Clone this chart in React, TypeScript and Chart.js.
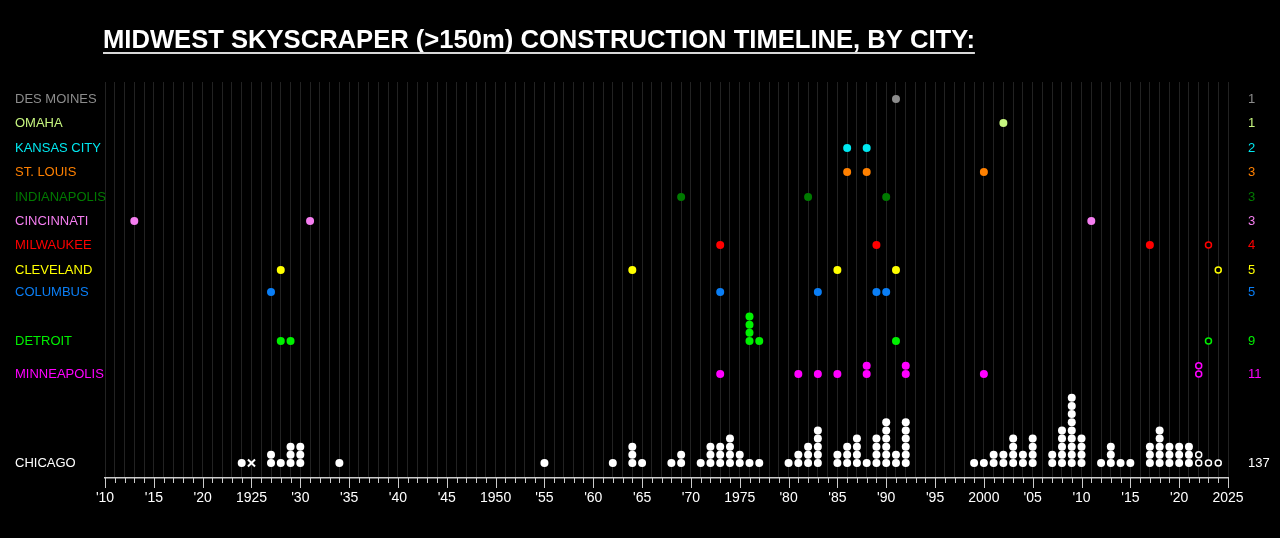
import { useEffect, useRef } from "react";
import Chart from "chart.js/auto";

const FONT = "'Liberation Sans', Arial, sans-serif";
const YEAR_MIN = 1910;
const YEAR_MAX = 2025;

const TITLE = "MIDWEST SKYSCRAPER (>150m) CONSTRUCTION TIMELINE, BY CITY:";

const cityNames = [
  "DES MOINES",
  "OMAHA",
  "KANSAS CITY",
  "ST. LOUIS",
  "INDIANAPOLIS",
  "CINCINNATI",
  "MILWAUKEE",
  "CLEVELAND",
  "COLUMBUS",
  "DETROIT",
  "MINNEAPOLIS",
  "CHICAGO",
];

// completed towers, one entry per building (year finished)
const desMoinesBuilt = [1991];
const omahaBuilt = [2002];
const kansasCityBuilt = [1986, 1988];
const stLouisBuilt = [1986, 1988, 2000];
const indianapolisBuilt = [1969, 1982, 1990];
const cincinnatiBuilt = [1913, 1931, 2011];
const milwaukeeBuilt = [1973, 1989, 2017];
const clevelandBuilt = [1928, 1964, 1985, 1991];
const columbusBuilt = [1927, 1973, 1983, 1989, 1990];
const detroitBuilt = [1928, 1929, 1976, 1976, 1976, 1976, 1977, 1991];
const minneapolisBuilt = [1973, 1981, 1983, 1985, 1988, 1988, 1992, 1992, 2000];

// Chicago: year and number of towers finished that year
const chicagoYears = [
  1924, 1927, 1928, 1929, 1930, 1934, 1955, 1962, 1964, 1965, 1968, 1969, 1971, 1972, 1973, 1974, 1975,
  1976, 1977, 1980, 1981, 1982, 1983, 1985, 1986, 1987, 1988, 1989, 1990, 1991, 1992, 1999, 2000, 2001,
  2002, 2003, 2004, 2005, 2007, 2008, 2009, 2010, 2012, 2013, 2014, 2015, 2017, 2018, 2019, 2020, 2021,
];
const chicagoCounts = [
  1, 2, 1, 3, 3, 1, 1, 1, 3, 1, 1, 2, 1, 3, 3, 4, 2,
  1, 1, 1, 2, 3, 5, 2, 3, 4, 1, 4, 6, 2, 6, 1, 1, 2,
  2, 4, 2, 4, 2, 5, 9, 4, 1, 3, 1, 1, 3, 5, 3, 3, 3,
];

// under construction (open markers)
const milwaukeeUC = [2023];
const clevelandUC = [2024];
const detroitUC = [2023];
const minneapolisUC = [2022, 2022];
const chicagoUC = [2022, 2022, 2023, 2024];

// Chicago tower marked with a cross
const chicagoCrossed = [1925];

const chicagoBuilt = chicagoYears.flatMap((y, i) => Array(chicagoCounts[i]).fill(y));

const builtByCity = [
  desMoinesBuilt,
  omahaBuilt,
  kansasCityBuilt,
  stLouisBuilt,
  indianapolisBuilt,
  cincinnatiBuilt,
  milwaukeeBuilt,
  clevelandBuilt,
  columbusBuilt,
  detroitBuilt,
  minneapolisBuilt,
  chicagoBuilt,
];
const ucByCity = [[], [], [], [], [], [], milwaukeeUC, clevelandUC, [], detroitUC, minneapolisUC, chicagoUC];

const cityColors = [
  "#8c8c8c",
  "#c6f57f",
  "#00e8f0",
  "#ff8000",
  "#007a00",
  "#f57ef0",
  "#ff0000",
  "#ffff00",
  "#0a7ef5",
  "#00f000",
  "#ff00ff",
  "#ffffff",
];

// row baselines, in y-units (1 unit = 1px above Chicago's row)
const ROW_BASE = [364, 340, 315, 291, 266, 242, 218, 193, 171, 122, 89, 0];
const STACK_STEP = 8.15;

const yearLabel = (v: number) => {
  if (v % 5 !== 0) return "";
  if (v % 25 === 0) return String(v);
  return "'" + String(v % 100).padStart(2, "0");
};

const App = () => {
  const canvasRef = useRef<HTMLCanvasElement | null>(null);

  useEffect(() => {
    document.body.style.margin = "0";
    document.body.style.background = "#000";
    if (!canvasRef.current) return;

    const datasets: any[] = [];
    builtByCity.forEach((built, i) => {
      const stack = new Map<number, number>();
      const place = (yr: number) => {
        const n = stack.get(yr) ?? 0;
        stack.set(yr, n + 1);
        return { x: yr, y: ROW_BASE[i] + n * STACK_STEP };
      };
      datasets.push({
        label: cityNames[i],
        data: built.map(place),
        pointStyle: "circle",
        pointRadius: 4,
        pointBorderWidth: 0,
        pointBackgroundColor: cityColors[i],
        pointBorderColor: cityColors[i],
      });
      if (ucByCity[i].length) {
        datasets.push({
          label: cityNames[i] + " (u/c)",
          data: ucByCity[i].map(place),
          pointStyle: "circle",
          pointRadius: 3,
          pointBorderWidth: 1.5,
          pointBackgroundColor: "#000",
          pointBorderColor: cityColors[i],
        });
      }
    });
    datasets.push({
      label: "CHICAGO (x)",
      data: chicagoCrossed.map(yr => ({ x: yr, y: ROW_BASE[11] })),
      pointStyle: "crossRot",
      pointRadius: 5,
      pointBorderWidth: 2,
      pointBorderColor: "#fff",
      pointBackgroundColor: "#fff",
    });

    const years: number[] = [];
    for (let y = YEAR_MIN; y <= YEAR_MAX; y++) years.push(y);

    const decorations = {
      id: "decorations",
      afterDraw(chart: Chart) {
        const { ctx, chartArea, scales } = chart;
        const xs = scales.x;
        const ys = scales.y;
        ctx.save();

        // title with underline
        ctx.font = `bold 25.6px ${FONT}`;
        ctx.fillStyle = "#fff";
        ctx.textBaseline = "alphabetic";
        ctx.textAlign = "left";
        ctx.fillText(TITLE, 103, 48);
        const w = ctx.measureText(TITLE).width;
        ctx.strokeStyle = "#d8d8d8";
        ctx.lineWidth = 2;
        ctx.beginPath();
        ctx.moveTo(103, 53);
        ctx.lineTo(103 + w, 53);
        ctx.stroke();

        // axis ticks, long every 5 years
        ctx.strokeStyle = "#cccccc";
        ctx.lineWidth = 1;
        years.forEach(yr => {
          const px = Math.round(xs.getPixelForValue(yr)) + 0.5;
          ctx.beginPath();
          ctx.moveTo(px, chartArea.bottom);
          ctx.lineTo(px, chartArea.bottom + (yr % 5 === 0 ? 10 : 5));
          ctx.stroke();
        });

        // city names and totals
        ctx.font = `13px ${FONT}`;
        ctx.textBaseline = "middle";
        cityNames.forEach((name, i) => {
          const py = ys.getPixelForValue(ROW_BASE[i]);
          ctx.fillStyle = cityColors[i];
          ctx.textAlign = "left";
          ctx.fillText(name, 15, py);
          const total = builtByCity[i].length + ucByCity[i].length;
          ctx.fillText(String(total), 1248, py);
        });
        ctx.restore();
      },
    };

    const chart = new Chart(canvasRef.current, {
      type: "scatter",
      data: { datasets },
      options: {
        animation: false,
        responsive: true,
        maintainAspectRatio: false,
        layout: { padding: { left: 105, right: 52, top: 82, bottom: 0 } },
        plugins: {
          legend: { display: false },
          tooltip: { enabled: false },
        },
        scales: {
          x: {
            type: "linear",
            min: YEAR_MIN,
            max: YEAR_MAX,
            afterBuildTicks: (scale: any) => {
              scale.ticks = years.map(v => ({ value: v }));
            },
            afterFit: (scale: any) => {
              scale.height = 60;
            },
            ticks: {
              autoSkip: false,
              maxRotation: 0,
              padding: 12,
              color: "#ffffff",
              font: { family: FONT, size: 14 },
              callback: (v: any) => yearLabel(Number(v)),
            },
            grid: { color: "#222222", lineWidth: 1, drawTicks: false },
            border: { display: true, color: "#cccccc", width: 1.5 },
          },
          y: {
            type: "linear",
            display: false,
            min: -15,
            max: 381,
          },
        },
      },
      plugins: [decorations],
    });

    return () => chart.destroy();
  }, []);

  return (
    <div style={{ width: 1280, height: 538, background: "#000", position: "relative" }}>
      <canvas ref={canvasRef} />
    </div>
  );
};

export default App;
